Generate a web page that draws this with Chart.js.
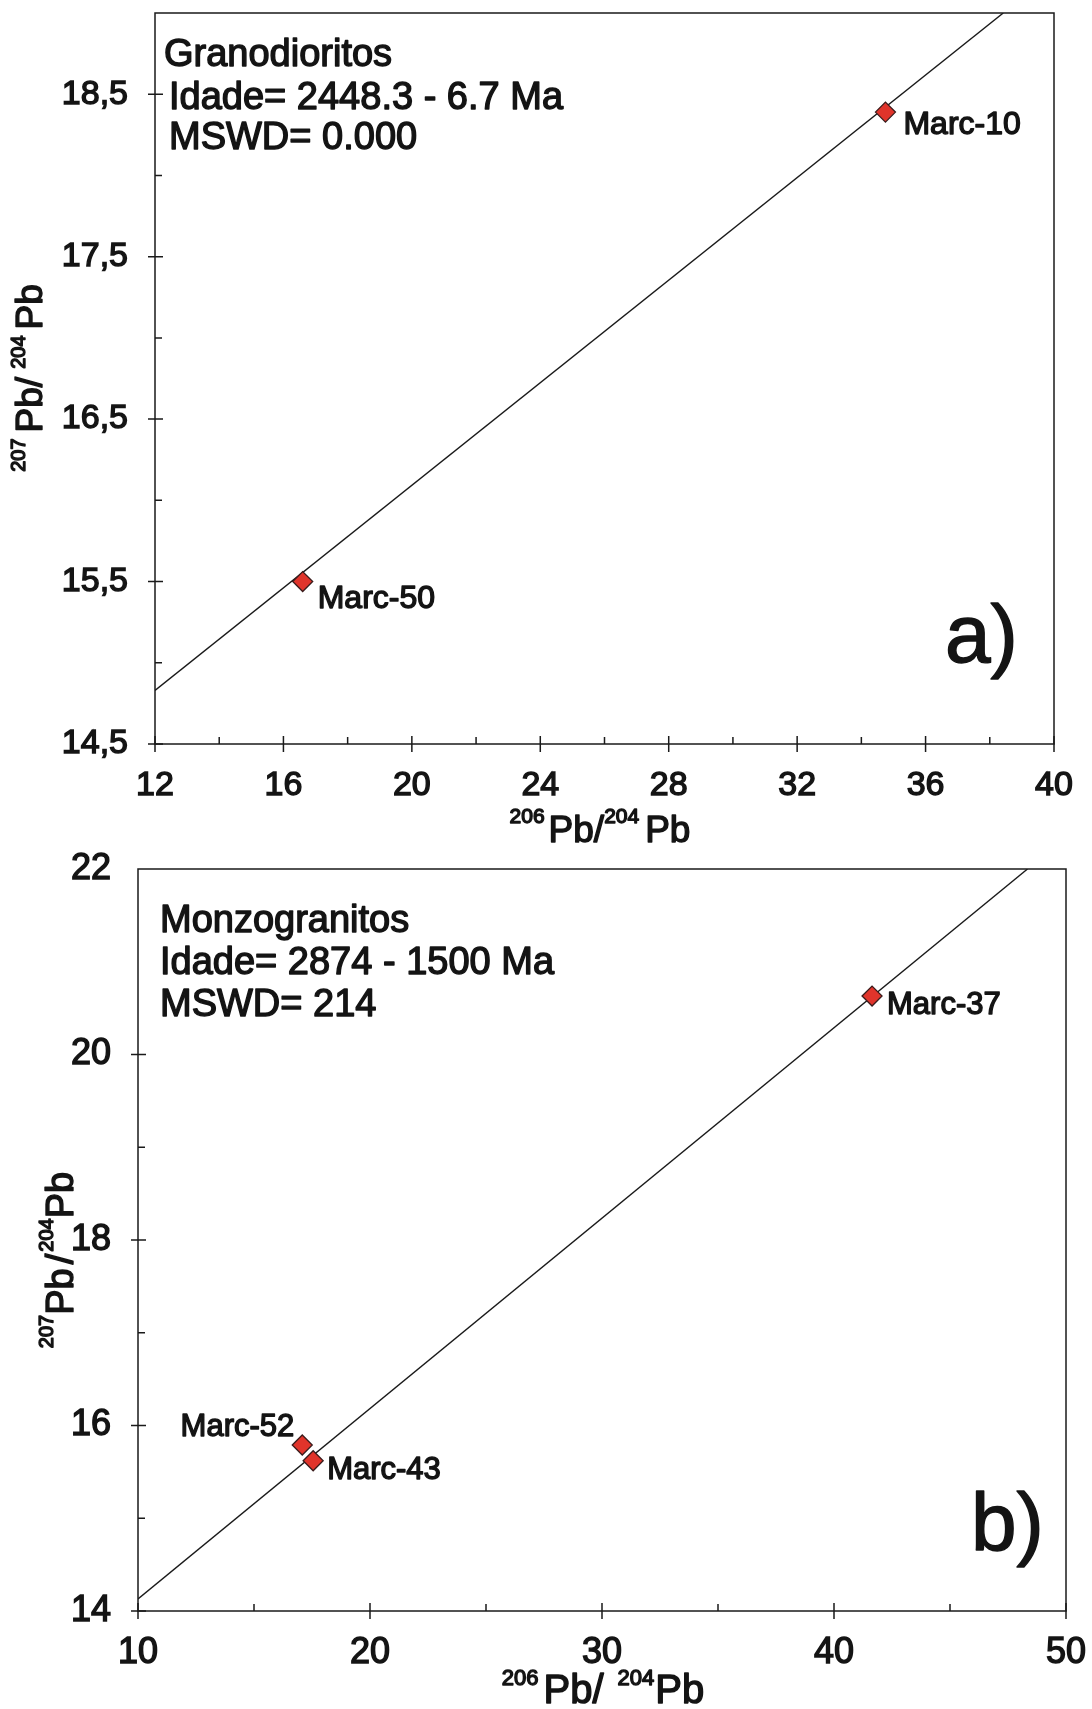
<!DOCTYPE html>
<html>
<head>
<meta charset="utf-8">
<script src="https://cdn.jsdelivr.net/npm/chart.js@4.4.1/dist/chart.umd.min.js"></script>
<style>
  html, body { margin: 0; padding: 0; background: #fff; }
  #wrap { position: relative; width: 1092px; height: 1709px; }
  canvas { position: absolute; left: 0; }
  #chartA { top: 0; }
  #chartB { top: 820px; }
</style>
</head>
<body>
<div id="wrap">
  <canvas id="chartA" width="1092" height="860"></canvas>
  <canvas id="chartB" width="1092" height="889"></canvas>
</div>
<script>
// a) Granodioritos
const GRANO_NAMES = ["Marc-50", "Marc-10"];
const GRANO_X = [16.6, 34.75];
const GRANO_Y = [15.5, 18.39];
const GRANO_LINE_X = [12, 38.42];
const GRANO_LINE_Y = [14.83, 19.0];
const GRANO_X_TICKS = [12, 16, 20, 24, 28, 32, 36, 40];
const GRANO_X_MINOR = [14, 18, 22, 26, 30, 34, 38];
const GRANO_Y_TICKS = [14.5, 15.5, 16.5, 17.5, 18.5];
const GRANO_Y_MINOR = [15, 16, 17, 18];

// b) Monzogranitos
const MONZO_NAMES = ["Marc-52", "Marc-43", "Marc-37"];
const MONZO_X = [17.08, 17.55, 41.64];
const MONZO_Y = [15.79, 15.62, 20.63];
const MONZO_LINE_X = [10, 48.34];
const MONZO_LINE_Y = [14.13, 22.0];
const MONZO_X_TICKS = [10, 20, 30, 40, 50];
const MONZO_X_MINOR = [15, 25, 35, 45];
const MONZO_Y_TICKS = [14, 16, 18, 20, 22];
const MONZO_Y_MAJOR = [14, 16, 18, 20];
const MONZO_Y_MINOR = [15, 17, 19];

const FONT = '"Liberation Sans", Arial, Helvetica, sans-serif';
const INK = "#141414";
const HEAVY = 1.4; // scanned text is heavier than plain Arial

function text(ctx, s, x, y, size, align) {
  ctx.font = `${size}px ${FONT}`;
  ctx.textAlign = align || "left";
  ctx.textBaseline = "alphabetic";
  ctx.fillStyle = INK;
  ctx.strokeStyle = INK;
  ctx.lineWidth = HEAVY;
  ctx.lineJoin = "round";
  ctx.fillText(s, x, y);
  ctx.strokeText(s, x, y);
}

// parts: [string, fontSize, raise, gapAfter]
function richWidth(ctx, parts) {
  let w = 0;
  for (const [s, size, , gap] of parts) {
    ctx.font = `${size}px ${FONT}`;
    w += ctx.measureText(s).width + (gap || 0);
  }
  return w;
}

function drawRich(ctx, parts, cx, baseY) {
  let x = cx - richWidth(ctx, parts) / 2;
  for (const [s, size, raise, gap] of parts) {
    text(ctx, s, x, baseY - raise, size);
    ctx.font = `${size}px ${FONT}`;
    x += ctx.measureText(s).width + (gap || 0);
  }
}

function drawAxesBox(chart, spec) {
  const { ctx, chartArea: a, scales: { x, y } } = chart;
  ctx.save();
  ctx.strokeStyle = "#1a1a1a";
  ctx.lineWidth = 1.5;
  ctx.beginPath();
  spec.xMajor.forEach((v) => {
    const p = x.getPixelForValue(v);
    ctx.moveTo(p, a.bottom - 8);
    ctx.lineTo(p, a.bottom + 8);
  });
  spec.xMinor.forEach((v) => {
    const p = x.getPixelForValue(v);
    ctx.moveTo(p, a.bottom - 7);
    ctx.lineTo(p, a.bottom);
  });
  spec.yMajor.forEach((v) => {
    const p = y.getPixelForValue(v);
    ctx.moveTo(a.left - 7, p);
    ctx.lineTo(a.left + 8, p);
  });
  spec.yMinor.forEach((v) => {
    const p = y.getPixelForValue(v);
    ctx.moveTo(a.left, p);
    ctx.lineTo(a.left + 7, p);
  });
  ctx.stroke();
  ctx.strokeRect(a.left, a.top, a.right - a.left, a.bottom - a.top);
  ctx.restore();
}

function annotate(spec) {
  return {
    id: "annotate",
    afterDraw(chart) {
      const { ctx, chartArea: a, scales: { x, y } } = chart;
      drawAxesBox(chart, spec);
      ctx.save();

      spec.notes.forEach(([s, dx, by]) => text(ctx, s, a.left + dx, by, spec.noteSize));

      spec.names.forEach((name, i) => {
        const px = x.getPixelForValue(spec.px[i]);
        const py = y.getPixelForValue(spec.py[i]);
        const [dx, dy, align] = spec.nameOffsets[i];
        text(ctx, name, px + dx, py + dy, spec.nameSize, align);
      });

      text(ctx, spec.panel[0], spec.panel[1], spec.panel[2], 82);

      drawRich(ctx, spec.xTitle, spec.xTitlePos[0], spec.xTitlePos[1]);

      ctx.save();
      ctx.translate(spec.yTitlePos[0], spec.yTitlePos[1]);
      ctx.rotate(-Math.PI / 2);
      drawRich(ctx, spec.yTitle, 0, 0);
      ctx.restore();

      ctx.restore();
    },
  };
}

function fixedAxis(size, horizontal) {
  return (scale) => {
    if (horizontal) scale.height = size;
    else scale.width = size;
    scale.paddingLeft = scale.paddingRight = scale.paddingTop = scale.paddingBottom = 0;
  };
}

function buildChart(el, cfg) {
  return new Chart(el, {
    type: "scatter",
    data: {
      datasets: [
        {
          data: cfg.lineX.map((v, i) => ({ x: v, y: cfg.lineY[i] })),
          showLine: true,
          borderColor: "#1a1a1a",
          borderWidth: 1.4,
          pointRadius: 0,
          order: 2,
        },
        {
          data: cfg.px.map((v, i) => ({ x: v, y: cfg.py[i] })),
          pointStyle: "rectRot",
          pointRadius: 10,
          backgroundColor: "#e0342b",
          borderColor: "#3a1c1c",
          borderWidth: 1.3,
          order: 1,
        },
      ],
    },
    options: {
      responsive: false,
      animation: false,
      devicePixelRatio: 1,
      events: [],
      layout: { padding: cfg.padding },
      plugins: { legend: { display: false }, tooltip: { enabled: false } },
      scales: {
        x: {
          type: "linear",
          min: cfg.xRange[0],
          max: cfg.xRange[1],
          grid: { display: false },
          border: { display: false },
          afterBuildTicks: (s) => { s.ticks = cfg.xTicks.map((v) => ({ value: v })); },
          afterFit: fixedAxis(cfg.xAxisHeight, true),
          ticks: {
            padding: cfg.xPad,
            maxRotation: 0,
            autoSkip: false,
            color: INK,
            textStrokeColor: INK,
            textStrokeWidth: HEAVY,
            font: { family: FONT, size: cfg.tickSize },
            callback: (v) => cfg.fmt(v),
          },
        },
        y: {
          type: "linear",
          min: cfg.yRange[0],
          max: cfg.yRange[1],
          grid: { display: false },
          border: { display: false },
          afterBuildTicks: (s) => { s.ticks = cfg.yTicks.map((v) => ({ value: v })); },
          afterFit: fixedAxis(cfg.yAxisWidth, false),
          ticks: {
            padding: 19,
            autoSkip: false,
            color: INK,
            textStrokeColor: INK,
            textStrokeWidth: HEAVY,
            font: { family: FONT, size: cfg.tickSize },
            callback: (v) => cfg.fmt(v),
          },
        },
      },
    },
    plugins: [annotate(cfg)],
  });
}

buildChart(document.getElementById("chartA"), {
  px: GRANO_X, py: GRANO_Y, names: GRANO_NAMES,
  lineX: GRANO_LINE_X, lineY: GRANO_LINE_Y,
  xTicks: GRANO_X_TICKS, yTicks: GRANO_Y_TICKS,
  xMajor: GRANO_X_TICKS, xMinor: GRANO_X_MINOR,
  yMajor: GRANO_Y_TICKS, yMinor: GRANO_Y_MINOR,
  xRange: [12, 40], yRange: [14.5, 19.0],
  padding: { top: 13, right: 38, left: 0, bottom: 0 },
  yAxisWidth: 155, xAxisHeight: 116, xPad: 13, tickSize: 34,
  fmt: (v) => String(v).replace(".", ","),
  noteSize: 38,
  notes: [["Granodioritos", 9, 66], ["Idade= 2448.3 - 6.7 Ma", 14, 109], ["MSWD= 0.000", 14, 149]],
  nameSize: 32,
  nameOffsets: [[15, 26, "left"], [18, 22, "left"]],
  panel: ["a)", 945, 662],
  xTitle: [["206", 21, 19, 4], ["Pb/", 37, 0, 0], ["204", 21, 19, 6], ["Pb", 37, 0, 0]],
  xTitlePos: [600, 842],
  yTitle: [["207", 20, 17, 6], ["Pb/", 37, 0, 8], ["204", 20, 17, 6], ["Pb", 37, 0, 0]],
  yTitlePos: [42, 378],
});

buildChart(document.getElementById("chartB"), {
  px: MONZO_X, py: MONZO_Y, names: MONZO_NAMES,
  lineX: MONZO_LINE_X, lineY: MONZO_LINE_Y,
  xTicks: MONZO_X_TICKS, yTicks: MONZO_Y_TICKS,
  xMajor: MONZO_X_TICKS, xMinor: MONZO_X_MINOR,
  yMajor: MONZO_Y_MAJOR, yMinor: MONZO_Y_MINOR,
  xRange: [10, 50], yRange: [14, 22],
  padding: { top: 49, right: 26, left: 0, bottom: 0 },
  yAxisWidth: 138, xAxisHeight: 98, xPad: 12, tickSize: 36,
  fmt: (v) => String(v),
  noteSize: 38,
  notes: [["Monzogranitos", 22, 112], ["Idade= 2874 - 1500 Ma", 22, 154], ["MSWD= 214", 22, 196]],
  nameSize: 31,
  nameOffsets: [[-8, -9, "right"], [14, 18, "left"], [15, 18, "left"]],
  panel: ["b)", 971, 730],
  xTitle: [["206", 22, 18, 5], ["Pb/", 40, 0, 14], ["204", 22, 18, 1], ["Pb", 40, 0, 0]],
  xTitlePos: [603, 883],
  yTitle: [["207", 20, 20, 0], ["Pb", 38, 0, 4], ["/", 38, 0, 2], ["204", 20, 20, 0], ["Pb", 38, 0, 0]],
  yTitlePos: [73, 440],
});
</script>
</body>
</html>
